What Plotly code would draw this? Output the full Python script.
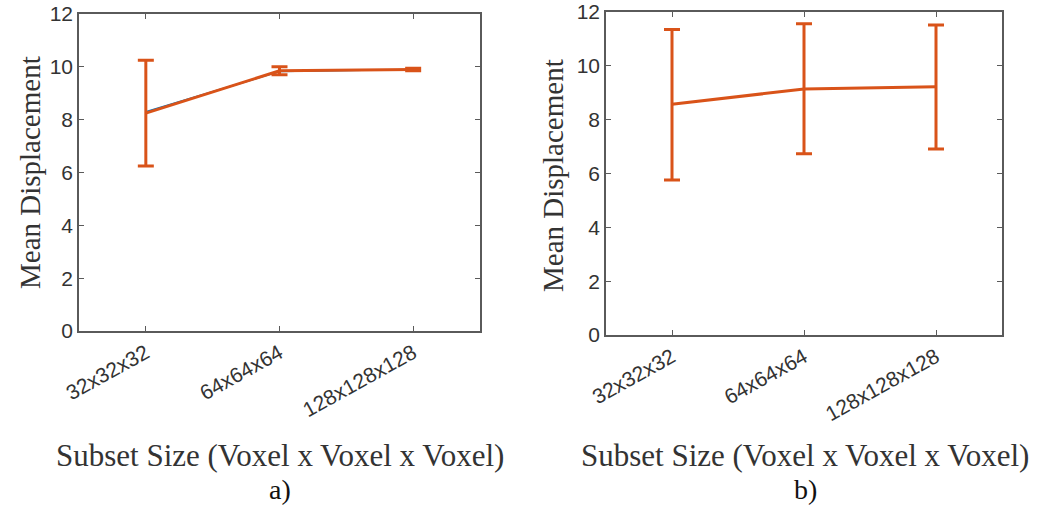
import plotly.graph_objects as go

categories = ["32x32x32", "64x64x64", "128x128x128"]
# panel a)
a_mean = [8.25, 9.85, 9.90]
a_err = [2.0, 0.15, 0.05]
a_blue = [8.30, 9.82, 9.90]
# panel b)
b_mean = [8.57, 9.14, 9.22]
b_err_plus = [2.78, 2.42, 2.30]
b_err_minus = [2.81, 2.41, 2.31]

y_ticks = [0, 2, 4, 6, 8, 10, 12]
ylabel = "Mean Displacement"
xlabel = "Subset Size (Voxel x Voxel x Voxel)"
panel_labels = ["a)", "b)"]

ORANGE = "#D95319"
BLUE = "#0072BD"
AX = "#5a5a5a"
TICKFONT = dict(family="Liberation Sans, Arial", size=21, color="#333333")
XTICKFONT = dict(family="Liberation Sans, Arial", size=21, color="#333333")
YTITLE = dict(family="Liberation Serif, Times New Roman", size=29, color="#333333")
XTITLE = dict(family="Liberation Serif, Times New Roman", size=31, color="#333333")
PANELFONT = dict(family="Liberation Serif, Times New Roman", size=28, color="#111111")

fig = go.Figure()
fig.add_trace(go.Scatter(x=categories, y=a_blue, mode="lines",
                         line=dict(color=BLUE, width=1.5), xaxis="x", yaxis="y",
                         showlegend=False))
fig.add_trace(go.Scatter(x=categories, y=a_mean, mode="lines",
                         line=dict(color=ORANGE, width=3),
                         error_y=dict(type="data", array=a_err, color=ORANGE,
                                      thickness=3, width=8),
                         xaxis="x", yaxis="y", showlegend=False))
fig.add_trace(go.Scatter(x=categories, y=b_mean, mode="lines",
                         line=dict(color=ORANGE, width=3),
                         error_y=dict(type="data", array=b_err_plus,
                                      arrayminus=b_err_minus, color=ORANGE,
                                      thickness=3, width=8),
                         xaxis="x2", yaxis="y2", showlegend=False))

def xax(domain, anchor):
    return dict(domain=domain, anchor=anchor, type="category",
                categoryorder="array", categoryarray=categories,
                range=[-0.5, 2.5], showline=True, linecolor=AX, linewidth=1.5,
                mirror="allticks", ticks="inside", ticklen=5, tickcolor=AX,
                tickangle=-29, tickfont=XTICKFONT, automargin=False,
                showgrid=False, zeroline=False, fixedrange=True)

def yax(domain, anchor):
    return dict(domain=domain, anchor=anchor, range=[0, 12], tickvals=y_ticks,
                showline=True, linecolor=AX, linewidth=1.5, mirror="allticks",
                ticks="inside", ticklen=5, tickcolor=AX, tickfont=TICKFONT,
                automargin=False,
                showgrid=False, zeroline=False, fixedrange=True)

fig.update_layout(
    width=1052, height=508, margin=dict(l=0, r=0, t=0, b=0, autoexpand=False),
    paper_bgcolor="white", plot_bgcolor="white",
    xaxis=xax([79/1052, 480/1052], "y"),
    yaxis=yax([1-331/508, 1-14/508], "x"),
    xaxis2=xax([606/1052, 1002/1052], "y2"),
    yaxis2=yax([1-335/508, 1-12/508], "x2"),
)

ann = []
for xc, yc in [(30, 173), (553, 176)]:
    ann.append(dict(text=ylabel, x=xc/1052, y=1-yc/508, xref="paper", yref="paper",
                    showarrow=False, textangle=-90, font=YTITLE,
                    xanchor="center", yanchor="middle"))
for xc, lab in [(280, panel_labels[0]), (805, panel_labels[1])]:
    ann.append(dict(text=xlabel, x=xc/1052, y=1-455/508, xref="paper", yref="paper",
                    showarrow=False, font=XTITLE, xanchor="center", yanchor="middle"))
    ann.append(dict(text=lab, x=xc/1052, y=1-489/508, xref="paper", yref="paper",
                    showarrow=False, font=PANELFONT, xanchor="center", yanchor="middle"))
fig.update_layout(annotations=ann)

fig.write_html("out.html")
